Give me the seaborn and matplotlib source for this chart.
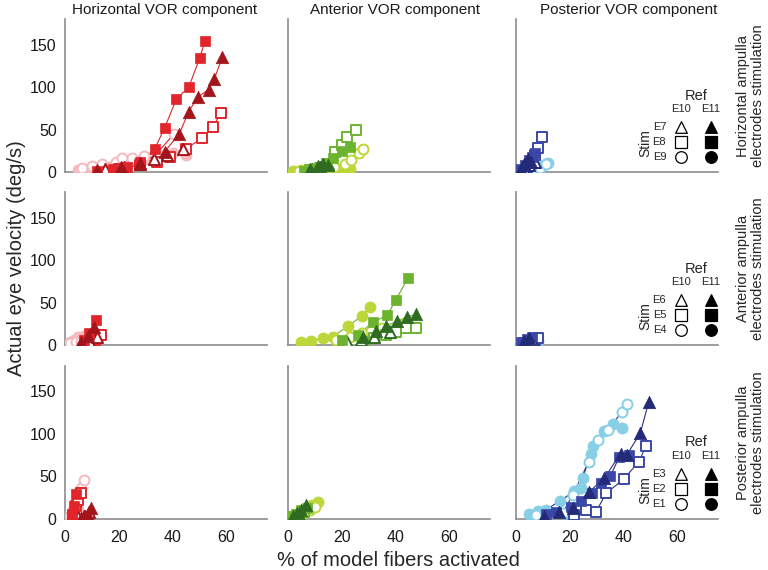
import matplotlib
matplotlib.use("Agg")
import matplotlib.pyplot as plt
import seaborn as sns
import pandas as pd

# ---------------------------------------------------------
# Data: one dict per panel, stim electrode shape + ref (fill = E11, open = E10)
# rows = stimulated ampulla, columns = VOR component
# ---------------------------------------------------------

row_titles = ["Horizontal ampulla\nelectrodes stimulation",
              "Anterior ampulla\nelectrodes stimulation",
              "Posterior ampulla\nelectrodes stimulation"]
col_titles = ["Horizontal VOR component", "Anterior VOR component", "Posterior VOR component"]
stim_labels = [["E7", "E8", "E9"], ["E6", "E5", "E4"], ["E3", "E2", "E1"]]
ref_labels = ["E10", "E11"]

# horizontal ampulla stimulation
h_stim_h_comp = {
    "circ_fill": ([5, 9, 14, 18, 23, 29, 34, 40, 45], [2, 3, 5, 7, 10, 14, 18, 22, 20]),
    "circ_open": ([6.5, 10.2, 13.9, 18.8, 21.3, 25, 29.4, 34.3, 40.5], [5, 7, 9, 12, 16, 16.5, 19, 22.5, 45]),
    "sq_open": ([20, 28, 34.3, 38.9, 45, 50.9, 54.8, 58.1], [4, 8, 12, 18, 27.5, 40, 53, 70]),
    "tri_open": ([15, 22, 28, 33, 38, 44], [3, 6, 10, 15, 20, 27]),
    "sq_fill": ([12, 18, 23, 28, 33.3, 37, 41.4, 46, 50, 52], [1, 3, 6, 12, 27, 52, 86, 100, 134, 154]),
    "tri_fill": ([12, 20.7, 27.9, 37, 42.5, 45.9, 49.3, 53.3, 55.5, 58.4], [2, 6, 11, 24, 45, 71, 88, 97, 110, 135]),
}
h_stim_a_comp = {
    "circ_fill": ([2, 5, 8, 11, 14, 17, 20, 23], [1, 2, 1, 2, 3, 2, 3, 4]),
    "circ_open": ([4, 8, 12, 17, 21, 23.5, 26.3, 28], [1, 3, 4, 6, 9, 14, 22, 27.5]),
    "sq_open": ([8, 12, 14.3, 17.4, 20, 21.9, 25.3], [2, 5, 9, 23, 32, 41, 49]),
    "tri_open": ([9, 12, 15], [3, 6, 9]),
    "sq_fill": ([6, 10, 14.3, 16.8, 19.9, 23], [1, 4, 11, 17, 25, 29]),
    "tri_fill": ([8, 11, 13, 15], [4, 7, 10, 8]),
}
h_stim_p_comp = {
    "circ_fill": ([2, 4, 6, 8, 10, 12], [2, 3, 4, 5, 8, 11]),
    "circ_open": ([3, 6, 9, 11], [1, 3, 5, 9]),
    "sq_open": ([4, 6, 7, 8, 9.5], [5, 12, 20, 28, 41]),
    "tri_open": ([3, 5, 7], [3, 8, 12]),
    "sq_fill": ([2, 3.5, 5, 6, 7], [3, 8, 14, 18, 22]),
    "tri_fill": ([2, 3, 4.5, 5.5], [4, 9, 15, 12]),
}

# anterior ampulla stimulation
a_stim_h_comp = {
    "circ_fill": ([2, 3.5, 5, 7], [3, 6, 9, 11]),
    "circ_open": ([2, 4, 6, 8, 10], [2, 4, 5, 6, 8]),
    "sq_open": ([8, 11, 13.3], [3, 6, 11.6]),
    "tri_open": ([6, 9, 12], [2, 5, 9]),
    "sq_fill": ([7, 9, 11.5], [6, 14, 29]),
    "tri_fill": ([6, 8.5, 10.9], [4, 11, 21]),
}
a_stim_a_comp = {
    "circ_fill": ([4.9, 8.6, 13, 16.8, 22.1, 27.4, 30.4], [3, 5, 8, 10, 22, 34, 45]),
    "circ_open": ([18, 23, 27.4, 31, 35, 43.6], [6, 10, 14, 17, 20, 26]),
    "sq_open": ([28, 32, 36.5, 40, 43.7, 47.4], [4, 8, 11.6, 15.6, 20.5, 20.5]),
    "tri_open": ([22, 27, 32, 38], [3, 6, 10, 15]),
    "sq_fill": ([20, 26, 31.6, 36.9, 40, 44.6], [6, 12, 27, 35, 53, 79]),
    "tri_fill": ([28, 32.8, 36.5, 40.5, 44.2, 47.4], [9, 16, 22.5, 28, 33, 36]),
}
a_stim_p_comp = {
    "circ_fill": ([2, 4, 6, 8], [2, 3, 4, 5]),
    "circ_open": ([3, 5, 7], [1, 3, 4]),
    "sq_open": ([3, 5, 7, 8], [2, 4, 6, 8]),
    "tri_open": ([4, 6], [3, 6]),
    "sq_fill": ([2, 4, 6], [4, 7, 9]),
    "tri_fill": ([3, 5], [5, 8]),
}

# posterior ampulla stimulation
p_stim_h_comp = {
    "circ_fill": ([1.5, 2.5, 3.5, 5], [2, 5, 8, 12]),
    "circ_open": ([2, 3, 4, 5, 6, 7.2], [3, 10, 18, 27, 36, 46]),
    "sq_open": ([3, 4, 5, 6], [5, 15, 22, 30]),
    "tri_open": ([5, 7, 9], [2, 4, 8]),
    "sq_fill": ([2.5, 3.5, 4], [5, 15, 29]),
    "tri_fill": ([6, 7.5, 8.4, 9.6], [1, 3, 5, 13]),
}
p_stim_a_comp = {
    "circ_fill": ([3, 5, 7, 9, 11], [4, 8, 12, 16, 20]),
    "circ_open": ([4, 6, 8, 10], [3, 7, 10, 14]),
    "sq_open": ([2, 4, 6], [2, 5, 8]),
    "tri_open": ([2, 4], [2, 5]),
    "sq_fill": ([1, 3, 5, 7], [2, 6, 10, 13]),
    "tri_fill": ([2, 3.5, 5, 6.5], [3, 7, 11, 16]),
}
p_stim_p_comp = {
    "circ_fill": ([5, 8.1, 11.2, 16.2, 21.7, 24.2, 24.8, 27.7, 28.5, 32.8, 35.9, 39.3],
                  [6, 9, 11, 21, 32.6, 37, 48, 77, 86, 103, 112, 107]),
    "circ_open": ([7.5, 17.4, 21.1, 27, 30.5, 34, 39.4, 41.1], [5, 7.4, 28.7, 67.4, 92.6, 105, 126, 135]),
    "sq_open": ([21.7, 26, 29.7, 33.4, 40, 45.6, 48.3], [4.5, 10, 8.5, 30, 47, 67.4, 86]),
    "sq_fill": ([11.3, 15, 20.5, 24.2, 28.1, 31.6, 35, 38.3, 41.9], [6, 8, 14, 21, 30, 42, 50, 73, 75]),
    "tri_fill": ([10.5, 16, 21, 27.2, 32.8, 38.8, 41.1, 46.2, 49.3], [4, 8, 13, 32, 48, 77, 75, 101.6, 138]),
}

panels = [[h_stim_h_comp, h_stim_a_comp, h_stim_p_comp],
          [a_stim_h_comp, a_stim_a_comp, a_stim_p_comp],
          [p_stim_h_comp, p_stim_a_comp, p_stim_p_comp]]

# colours per VOR component column: triangle (dark), square (medium), circle (light)
col_colors = [
    {"tri": "#a3141b", "sq": "#e2252b", "circ": "#f6b9be", "line": "#d9262c"},
    {"tri": "#2f6b21", "sq": "#6cb32f", "circ": "#bcd73a", "line": "#6cae37"},
    {"tri": "#232a78", "sq": "#3a47a6", "circ": "#86cfe6", "line": "#2b2f85"},
]
markers = {"tri": "^", "sq": "s", "circ": "o"}
sizes = {"tri": 80, "sq": 56, "circ": 64}

# ---------------------------------------------------------
# Style
# ---------------------------------------------------------
sns.set_style("white")
plt.rcParams["font.family"] = ["Liberation Sans", "DejaVu Sans"]

fig = plt.figure(figsize=(7.68, 5.70), dpi=100)

lefts = [0.0846, 0.375, 0.6719]
bottoms = [0.6982, 0.3947, 0.0895]
w, h = 0.263, 0.2684
grey = "#8c8c8c"
title_x = [0.214, 0.514, 0.818]

for r in range(3):
    for c in range(3):
        ax = fig.add_axes([lefts[c], bottoms[r], w, h])
        data = panels[r][c]
        cols = col_colors[c]

        # fitted curves first (thin lines)
        for key, (xs, ys) in data.items():
            df = pd.DataFrame({"x": xs, "y": ys})
            sns.lineplot(data=df, x="x", y="y", ax=ax, color=cols["line"],
                         lw=0.8, estimator=None, sort=True, legend=False)

        # markers
        for key, (xs, ys) in data.items():
            shape, kind = key.split("_")
            df = pd.DataFrame({"x": xs, "y": ys})
            if kind == "fill":
                sns.scatterplot(data=df, x="x", y="y", ax=ax, marker=markers[shape],
                                s=sizes[shape], color=cols[shape], edgecolor=cols[shape],
                                linewidth=0.5, legend=False, zorder=3)
            else:
                sns.scatterplot(data=df, x="x", y="y", ax=ax, marker=markers[shape],
                                s=sizes[shape] * 0.8, color="white", edgecolor=cols[shape],
                                linewidth=1.4, legend=False, zorder=3)

        ax.set_xlim(0, 75)
        ax.set_ylim(0, 180)
        ax.set_xticks([0, 20, 40, 60])
        ax.set_yticks([0, 50, 100, 150])
        ax.set_xlabel("")
        ax.set_ylabel("")
        for s in ["top", "right"]:
            ax.spines[s].set_visible(False)
        for s in ["left", "bottom"]:
            ax.spines[s].set_color(grey)
            ax.spines[s].set_linewidth(1.2)
        ax.tick_params(direction="in", length=3, color=grey, labelsize=11.5,
                       pad=6, labelcolor="#1a1a1a")
        ax.tick_params(axis="x", pad=8)
        if c > 0:
            ax.set_yticklabels([])
        if r < 2:
            ax.set_xticklabels([])

        if r == 0:
            fig.text(title_x[c], 0.982, col_titles[c], fontsize=11, ha="center",
                     va="center", color="#1a1a1a")

        # inset legend in posterior column
        if c == 2:
            tr = ax.transAxes
            ax.text(0.89, 0.50, "Ref", transform=tr, fontsize=10.5, ha="center", va="center")
            ax.text(0.817, 0.41, ref_labels[0], transform=tr, fontsize=8, ha="center", va="center")
            ax.text(0.963, 0.41, ref_labels[1], transform=tr, fontsize=8, ha="center", va="center")
            ax.text(0.64, 0.19, "Stim", transform=tr, fontsize=10, rotation=90,
                    ha="center", va="center")
            for i, shape in enumerate(["tri", "sq", "circ"]):
                yy = [0.296, 0.194, 0.098][i]
                ax.text(0.71, yy, stim_labels[r][i], transform=tr, fontsize=8,
                        ha="center", va="center")
                ax.scatter([0.817], [yy], transform=tr, marker=markers[shape], s=70,
                           facecolor="white", edgecolor="black", linewidth=0.9, clip_on=False, zorder=4)
                ax.scatter([0.963], [yy], transform=tr, marker=markers[shape], s=70,
                           facecolor="black", edgecolor="black", linewidth=0.9, clip_on=False, zorder=4)

        # row labels on the right
        if c == 2:
            fig.text(0.977, bottoms[r] + h / 2, row_titles[r], rotation=90,
                     ha="center", va="center", fontsize=10.5, linespacing=1.1)

fig.text(0.519, 0.017, "% of model fibers activated", ha="center", va="center", fontsize=14.5)
fig.text(0.022, 0.548, "Actual eye velocity (deg/s)", rotation=90, ha="center",
         va="center", fontsize=14.5)

plt.savefig("out.png", dpi=100)
